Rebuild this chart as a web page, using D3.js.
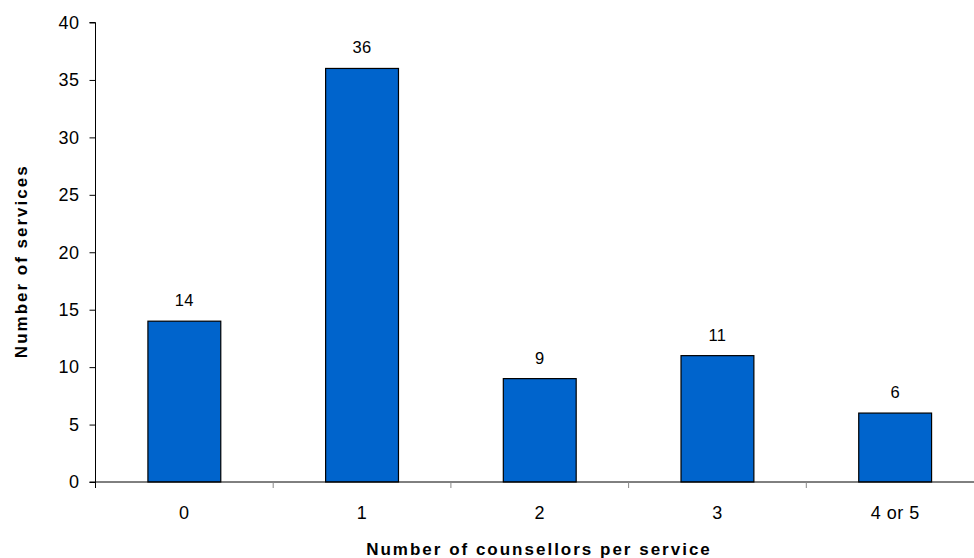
<!DOCTYPE html>
<html>
<head>
<meta charset="utf-8">
<script src="https://cdn.jsdelivr.net/npm/d3@7"></script>
<style>
  body { margin: 0; background: #fff; }
  svg text { font-family: "Liberation Sans", Arial, sans-serif; fill: #000; }
</style>
</head>
<body>
<div id="chart"></div>
<script>
// chart data
const categories = ["0", "1", "2", "3", "4 or 5"];
const services = [14, 36, 9, 11, 6];
const yTicks = [0, 5, 10, 15, 20, 25, 30, 35, 40];

const width = 974, height = 558;
const plot = { left: 95.5, right: 984, top: 22.5, bottom: 482 };

const svg = d3.select("#chart").append("svg")
    .attr("width", width)
    .attr("height", height);

const x = d3.scaleBand()
    .domain(categories)
    .range([plot.left, plot.right])
    .paddingInner(0.59)
    .paddingOuter(0.295);

const y = d3.scaleLinear()
    .domain([0, 40])
    .range([plot.bottom, plot.top]);

// bars
svg.append("g")
    .selectAll("rect")
    .data(services)
    .join("rect")
    .attr("x", (d, i) => x(categories[i]))
    .attr("y", d => y(d))
    .attr("width", x.bandwidth())
    .attr("height", d => y(0) - y(d))
    .attr("fill", "#0064CC")
    .attr("stroke", "#000")
    .attr("stroke-width", 1.2);

// value labels
svg.append("g")
    .selectAll("text")
    .data(services)
    .join("text")
    .attr("x", (d, i) => x(categories[i]) + x.bandwidth() / 2)
    .attr("y", d => y(d) - 15)
    .attr("text-anchor", "middle")
    .style("font-size", "16.5px")
    .style("letter-spacing", "0.3px")
    .text(d => d);

// y axis
const yAxis = svg.append("g")
    .attr("transform", `translate(${plot.left},0)`)
    .call(d3.axisLeft(y).tickValues(yTicks).tickSize(6).tickPadding(10));
yAxis.select(".domain").attr("stroke", "#000").attr("d", `M-6,${plot.bottom}H0V${plot.top}H-6`);
yAxis.selectAll("text")
    .attr("font-family", null)
    .style("font-size", "18px")
    .style("letter-spacing", "0.5px");

// x axis
const xg = svg.append("g");
xg.append("line")
    .attr("x1", plot.left).attr("x2", plot.right)
    .attr("y1", plot.bottom).attr("y2", plot.bottom)
    .attr("stroke", "#000");
xg.selectAll("line.tick")
    .data(d3.range(categories.length + 1))
    .join("line")
    .attr("class", "tick")
    .attr("x1", i => plot.left + i * x.step())
    .attr("x2", i => plot.left + i * x.step())
    .attr("y1", plot.bottom)
    .attr("y2", plot.bottom + 6)
    .attr("stroke", i => i === 0 ? "#000" : "#888");
xg.selectAll("text")
    .data(categories)
    .join("text")
    .attr("x", c => x(c) + x.bandwidth() / 2)
    .attr("y", plot.bottom + 36.5)
    .attr("text-anchor", "middle")
    .style("font-size", "18px")
    .style("letter-spacing", "0.5px")
    .text(c => c);

// axis titles
svg.append("text")
    .attr("x", 539)
    .attr("y", 555)
    .attr("text-anchor", "middle")
    .style("font-size", "17px")
    .style("font-weight", "bold")
    .style("letter-spacing", "2px")
    .text("Number of counsellors per service");

svg.append("text")
    .attr("transform", `translate(27,${(plot.top + plot.bottom) / 2 + 9}) rotate(-90)`)
    .attr("text-anchor", "middle")
    .style("font-size", "17px")
    .style("font-weight", "bold")
    .style("letter-spacing", "2px")
    .text("Number of services");
</script>
</body>
</html>
